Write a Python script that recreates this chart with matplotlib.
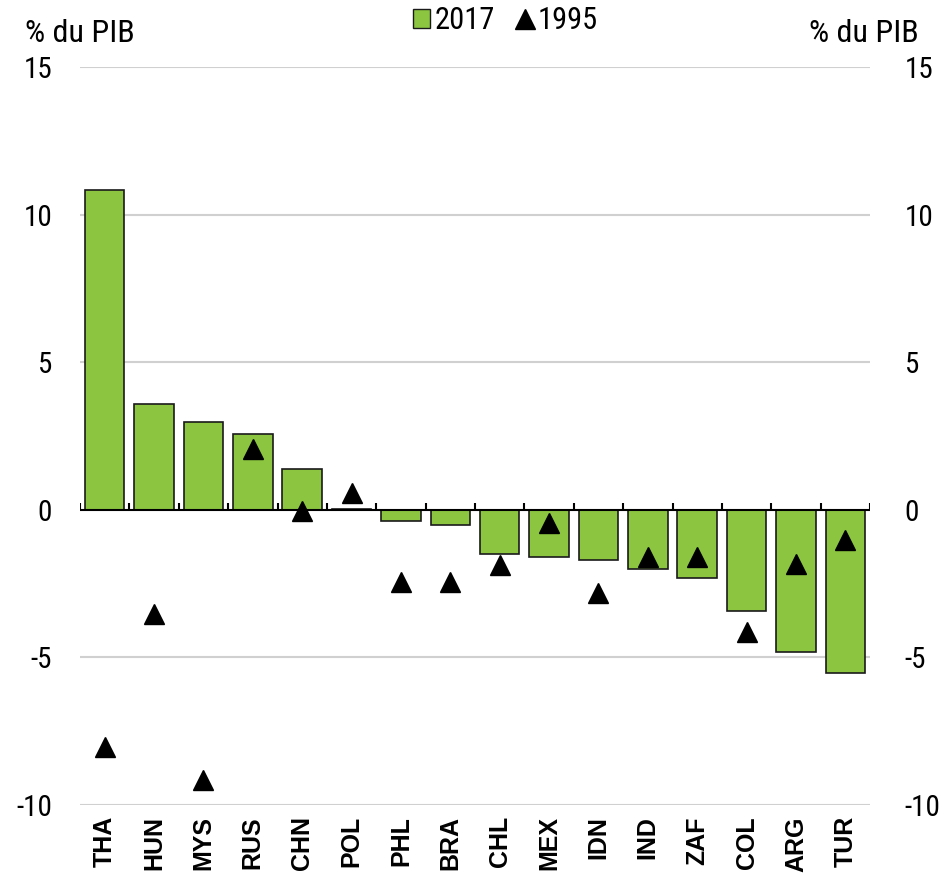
import numpy as np
import matplotlib.pyplot as plt
from matplotlib.lines import Line2D
from matplotlib.patches import Patch
from matplotlib import font_manager

countries = ['THA', 'HUN', 'MYS', 'RUS', 'CHN', 'POL', 'PHL', 'BRA',
             'CHL', 'MEX', 'IDN', 'IND', 'ZAF', 'COL', 'ARG', 'TUR']
val_2017 = [10.85, 3.6, 2.98, 2.58, 1.39, 0.02, -0.37, -0.51,
            -1.49, -1.59, -1.69, -2.0, -2.31, -3.42, -4.81, -5.53]
val_1995 = [-8.03, -3.53, -9.15, 2.07, -0.03, 0.58, -2.44, -2.44,
            -1.86, -0.44, -2.81, -1.59, -1.59, -4.14, -1.83, -1.02]
yticks = [-10, -5, 0, 5, 10, 15]

# pick a narrow font if one is installed
names = {f.name for f in font_manager.fontManager.ttflist}
narrow = 'DejaVu Sans'
for cand in ['Roboto Condensed', 'Liberation Sans Narrow', 'Open Sans Condensed']:
    if cand in names:
        narrow = cand
        break
nfont = dict(family=narrow, stretch='condensed')

fig = plt.figure(figsize=(9.47, 8.74), dpi=100)
ax = fig.add_axes([0.0845, 0.0789, 0.9187 - 0.0845, 0.9233 - 0.0789])

x = np.arange(len(countries))
ax.set_xlim(-0.5, len(countries) - 0.5)
ax.set_ylim(-10, 15)

for yv in [15, 10, 5, -5, -10]:
    ax.axhline(yv, color='#d0d0d0', lw=1.5, zorder=0)

ax.bar(x, val_2017, width=0.8, color='#8cc641', edgecolor='#1a1a1a', lw=1.2, zorder=2)
ax.axhline(0, color='black', lw=1.5, zorder=3)
ax.vlines(np.arange(len(countries) + 1) - 0.5, 0, 0.22, color='black', lw=1.5, zorder=3)
ax.plot(x, val_1995, '^', color='black', ms=14, zorder=4, clip_on=False)

for s in ax.spines.values():
    s.set_visible(False)
ax.tick_params(axis='both', length=0)
ax.set_xticks(x)
ax.set_xticklabels(countries, rotation=90, fontsize=18, fontweight='bold',
                   fontfamily='Liberation Sans')
ax.tick_params(axis='x', pad=8)
ax.set_yticks(yticks)
ax.set_yticklabels([str(v) for v in yticks], fontsize=21, **nfont)
ax.tick_params(axis='y', pad=20)

ax2 = ax.twinx()
ax2.set_ylim(-10, 15)
for s in ax2.spines.values():
    s.set_visible(False)
ax2.set_yticks(yticks)
ax2.set_yticklabels([str(v) for v in yticks], fontsize=21, **nfont)
ax2.tick_params(axis='y', length=0, pad=25)

fig.text(0.026, 0.962, '% du PIB', fontsize=23, va='center', ha='left', **nfont)
fig.text(0.970, 0.962, '% du PIB', fontsize=23, va='center', ha='right', **nfont)

handles = [Patch(facecolor='#8cc641', edgecolor='#1a1a1a', lw=1),
           Line2D([], [], marker='^', color='black', ls='none', ms=14)]
fig.legend(handles, ['2017', '1995'], loc='center', bbox_to_anchor=(0.534, 0.976),
           ncol=2, frameon=False,
           prop=font_manager.FontProperties(size=22, **nfont),
           handlelength=0.55, handleheight=0.55, handletextpad=0.15, columnspacing=0.7)

fig.savefig('out.png', dpi=100)
